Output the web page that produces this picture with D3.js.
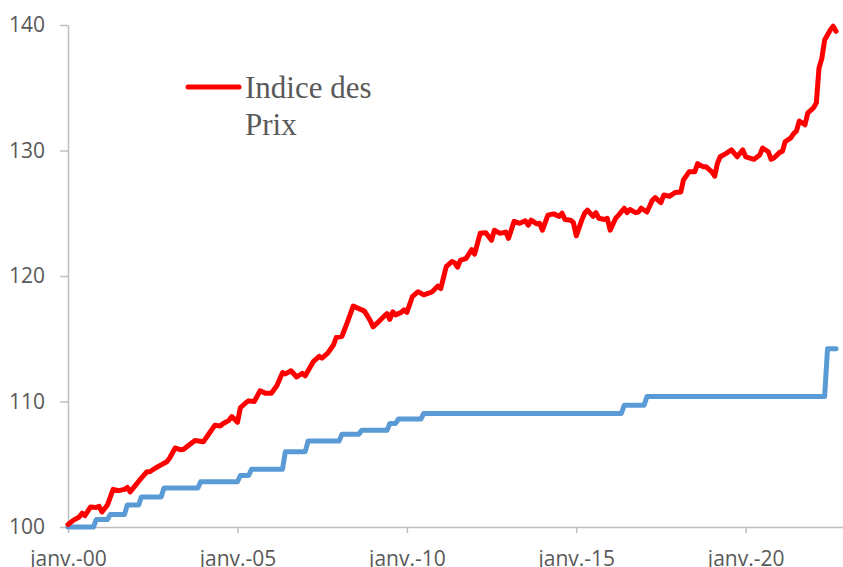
<!DOCTYPE html>
<html>
<head>
<meta charset="utf-8">
<script src="https://cdn.jsdelivr.net/npm/d3@7"></script>
<style>
  html, body { margin: 0; padding: 0; background: #ffffff; }
  svg { display: block; }
</style>
</head>
<body>
<svg id="chart" width="843" height="567"></svg>
<script>
// ---------- DATA ----------
const redDates = [
  "2000-01","2000-03","2000-05","2000-06","2000-07","2000-09","2000-11","2000-12",
  "2001-01","2001-03","2001-05","2001-07","2001-09","2001-10","2001-11",
  "2002-01","2002-03","2002-05","2002-06","2002-08","2002-10","2002-12",
  "2003-01","2003-03","2003-05","2003-06","2003-08","2003-10",
  "2004-01","2004-03","2004-05","2004-07","2004-08","2004-10","2004-11",
  "2005-01","2005-02","2005-04","2005-05","2005-07","2005-09","2005-11",
  "2006-01","2006-03","2006-05","2006-06","2006-08","2006-10","2006-12",
  "2007-01","2007-04","2007-06","2007-07","2007-09","2007-11","2007-12",
  "2008-02","2008-04","2008-06","2008-08","2008-10","2008-12",
  "2009-01","2009-03","2009-05","2009-06","2009-07","2009-08","2009-09","2009-11","2009-12",
  "2010-01","2010-03","2010-05","2010-07","2010-09","2010-10","2010-12",
  "2011-01","2011-03","2011-05","2011-06","2011-07","2011-08","2011-10","2011-12",
  "2012-01","2012-03","2012-05","2012-07","2012-08","2012-10","2012-12",
  "2013-01","2013-03","2013-05","2013-07","2013-08","2013-09","2013-11","2013-12",
  "2014-01","2014-03","2014-05","2014-07","2014-08","2014-09","2014-11","2014-12",
  "2015-01","2015-03","2015-04","2015-05","2015-07","2015-08","2015-09","2015-11","2015-12",
  "2016-01","2016-03","2016-04","2016-06","2016-07","2016-08","2016-10","2016-11","2016-12",
  "2017-02","2017-04","2017-05","2017-07","2017-08","2017-10","2017-12",
  "2018-02","2018-03","2018-05","2018-07","2018-08","2018-10","2018-11",
  "2019-01","2019-02","2019-03","2019-04","2019-06","2019-08","2019-10","2019-12",
  "2020-01","2020-04","2020-06","2020-07","2020-09","2020-10","2020-11",
  "2021-01","2021-02","2021-03","2021-05","2021-06","2021-07","2021-08","2021-10","2021-11",
  "2022-01","2022-02","2022-03","2022-04","2022-05","2022-07","2022-08","2022-09"
];
const redValues = [
  100.2,100.55,100.8,101.1,100.9,101.6,101.55,101.65,
  101.2,101.75,103.0,102.9,103.0,103.15,102.8,
  103.35,103.9,104.4,104.4,104.7,104.95,105.2,
  105.5,106.3,106.15,106.2,106.55,106.9,
  106.8,107.45,108.1,108.05,108.25,108.5,108.8,
  108.35,109.5,109.9,110.05,110.0,110.85,110.65,
  110.65,111.25,112.3,112.2,112.45,111.95,112.25,
  112.05,113.2,113.6,113.45,113.85,114.5,115.1,
  115.2,116.35,117.6,117.4,117.2,116.45,
  115.95,116.35,116.8,117.0,116.55,117.15,116.9,117.1,117.3,
  117.1,118.35,118.75,118.5,118.65,118.75,119.2,
  119.0,120.75,121.15,121.05,120.7,121.25,121.4,122.1,
  121.75,123.4,123.45,122.85,123.65,123.4,123.5,
  123.0,124.35,124.2,124.4,124.05,124.45,124.15,124.2,
  123.65,124.85,124.95,124.75,125.0,124.5,124.45,124.25,
  123.2,124.45,125.0,125.25,124.75,125.05,124.6,124.5,124.6,
  123.65,124.6,124.85,125.4,125.05,125.3,125.05,125.1,125.4,
  125.1,126.05,126.25,125.85,126.45,126.35,126.65,
  126.7,127.65,128.3,128.3,128.95,128.7,128.7,
  128.3,127.95,128.95,129.5,129.75,130.05,129.5,130.05,
  129.5,129.3,129.65,130.2,129.9,129.3,129.4,
  129.85,129.95,130.7,131.0,131.35,131.55,132.35,132.05,133.0,
  133.4,133.8,136.55,137.35,138.8,139.6,139.9,139.5
];

// second series: step levels (date at which each level starts)
const blueDates = [
  "2000-01","2000-11","2001-04","2001-10","2002-03","2002-11","2003-12",
  "2005-02","2005-06","2006-06","2007-02","2008-02","2008-09","2009-07",
  "2009-10","2010-07","2016-06","2017-02","2022-06"
];
const blueValues = [
  100.0,100.6,101.0,101.75,102.4,103.1,103.6,
  104.1,104.6,106.0,106.85,107.4,107.7,108.25,
  108.6,109.05,109.7,110.4,114.2
];
const blueEnd = "2022-09";

const yTicks = [100, 110, 120, 130, 140];
const xTickDates = ["2000-01","2005-01","2010-01","2015-01","2020-01"];
const xTickLabels = ["janv.-00","janv.-05","janv.-10","janv.-15","janv.-20"];
const legendLabel = ["Indice des", "Prix"];

// ---------- CHART ----------
const parse = d3.timeParse("%Y-%m");
const svg = d3.select("#chart");

const x = d3.scaleTime()
  .domain([new Date(2000, 0, 1), new Date(2022, 10, 15)])
  .range([68, 843]);
const y = d3.scaleLinear().domain([100, 140]).range([527, 25]);

const axisColor = "#bfbfbf";
const textColor = "#595959";
const tickFont = "'Open Sans', 'Noto Sans', sans-serif";

// Y axis
const yAxis = svg.append("g")
  .attr("transform", "translate(68,0)")
  .call(d3.axisLeft(y).tickValues(yTicks).tickFormat(d3.format("d"))
        .tickSize(8).tickSizeOuter(0).tickPadding(15));
yAxis.select(".domain").attr("stroke", axisColor).attr("stroke-width", 1.5);
yAxis.selectAll(".tick line").attr("stroke", axisColor).attr("stroke-width", 1.5);
yAxis.selectAll(".tick text")
  .attr("fill", textColor).style("font-family", tickFont).style("font-size", "21px");

// X axis
const xTickMap = new Map(xTickDates.map((d, i) => [+parse(d), xTickLabels[i]]));
const xAxis = svg.append("g")
  .attr("transform", "translate(0,527)")
  .call(d3.axisBottom(x).tickValues(xTickDates.map(parse))
        .tickFormat(d => xTickMap.get(+d)).tickSize(6).tickSizeOuter(0));
xAxis.select(".domain").attr("stroke", axisColor).attr("stroke-width", 1.5);
xAxis.selectAll(".tick line").attr("stroke", axisColor).attr("stroke-width", 1.5);
xAxis.selectAll(".tick text")
  .attr("fill", textColor).style("font-family", tickFont).style("font-size", "21px")
  .attr("dy", null).attr("y", 39);

// Blue step series (Excel-like one-month transitions)
const bluePts = [];
blueDates.forEach((d, i) => {
  const start = parse(d);
  bluePts.push([start, blueValues[i]]);
  const next = i < blueDates.length - 1 ? d3.timeMonth.offset(parse(blueDates[i + 1]), -1) : parse(blueEnd);
  if (+next > +start) bluePts.push([next, blueValues[i]]);
});
const line = d3.line().x(d => x(d[0])).y(d => y(d[1]));

svg.append("path")
  .datum(bluePts)
  .attr("d", line)
  .attr("fill", "none")
  .attr("stroke", "#5b9bd5")
  .attr("stroke-width", 5)
  .attr("stroke-linejoin", "round")
  .attr("stroke-linecap", "round");

// Red series
const redPts = redDates.map((d, i) => [parse(d), redValues[i]]);
svg.append("path")
  .datum(redPts)
  .attr("d", line)
  .attr("fill", "none")
  .attr("stroke", "#ff0000")
  .attr("stroke-width", 5)
  .attr("stroke-linejoin", "round")
  .attr("stroke-linecap", "round");

// Legend
const lg = svg.append("g");
lg.append("line")
  .attr("x1", 188).attr("x2", 239).attr("y1", 87).attr("y2", 87)
  .attr("stroke", "#ff0000").attr("stroke-width", 5).attr("stroke-linecap", "round");
lg.append("text")
  .attr("x", 245).attr("y", 98)
  .attr("fill", textColor)
  .style("font-family", "'Liberation Serif', 'Times New Roman', serif")
  .style("font-size", "31px")
  .selectAll("tspan").data(legendLabel).join("tspan")
  .attr("x", 245).attr("dy", (d, i) => i === 0 ? 0 : 37)
  .text(d => d);
</script>
</body>
</html>
